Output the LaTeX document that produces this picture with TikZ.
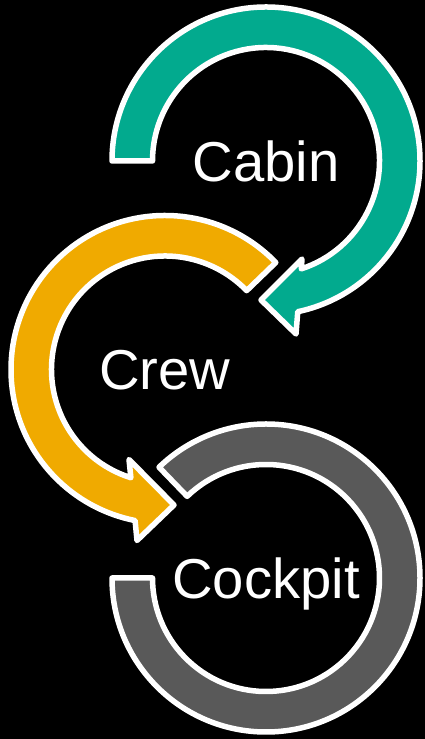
\documentclass[tikz,border=0pt]{standalone}
\usepackage{fontspec}
\setsansfont{Liberation Sans}
\usepackage{tikz}
\definecolor{cabingreen}{RGB}{2,170,142}
\definecolor{crewgold}{RGB}{240,170,0}
\definecolor{cockpitgrey}{RGB}{89,89,89}

\begin{document}
\begin{tikzpicture}[
  x=0.02cm, y=0.02cm,
  band/.style={draw=white, line width=0.11cm, line join=round},
  lbl/.style={text=white, inner sep=0pt, text height=23pt, text depth=0pt,
    font=\sffamily\fontsize{32}{38}\selectfont}
]
\useasboundingbox (0,0) rectangle (425,739);
\fill[black] (0,0) rectangle (425,739);

\node[lbl] (cabin) at (266,578) {Cabin};
\node[lbl] (crew) at (165,369.5) {Crew};
\node[lbl] (cockpit) at (266,161) {Cockpit};

% top ring, runs clockwise into the crew ring
\begin{scope}[shift={(cabin.center)}]
\filldraw[band, fill=cabingreen] (180:154) arc[start angle=180, end angle=-78.1, radius=154]
  -- (30,-173) -- (-5,-139) -- (36,-98) -- (-71.9:113.5)
  arc[start angle=-71.9, end angle=180, radius=113.5] -- cycle;
\end{scope}

% middle ring, runs anticlockwise into the cockpit ring
\begin{scope}[shift={(crew.center)}]
\filldraw[band, fill=crewgold] (44:154) arc[start angle=44, end angle=258.8, radius=154]
  -- (-28,-171) -- (9,-135.5) -- (-36,-90) -- (252.5:113.5)
  arc[start angle=252.5, end angle=44, radius=113.5] -- cycle;
\end{scope}

% bottom ring, no head
\begin{scope}[shift={(cockpit.center)}]
\filldraw[band, fill=cockpitgrey] (180:154) arc[start angle=180, end angle=494, radius=154]
  -- (494:113.5) arc[start angle=494, end angle=180, radius=113.5] -- cycle;
\end{scope}
\end{tikzpicture}
\end{document}
